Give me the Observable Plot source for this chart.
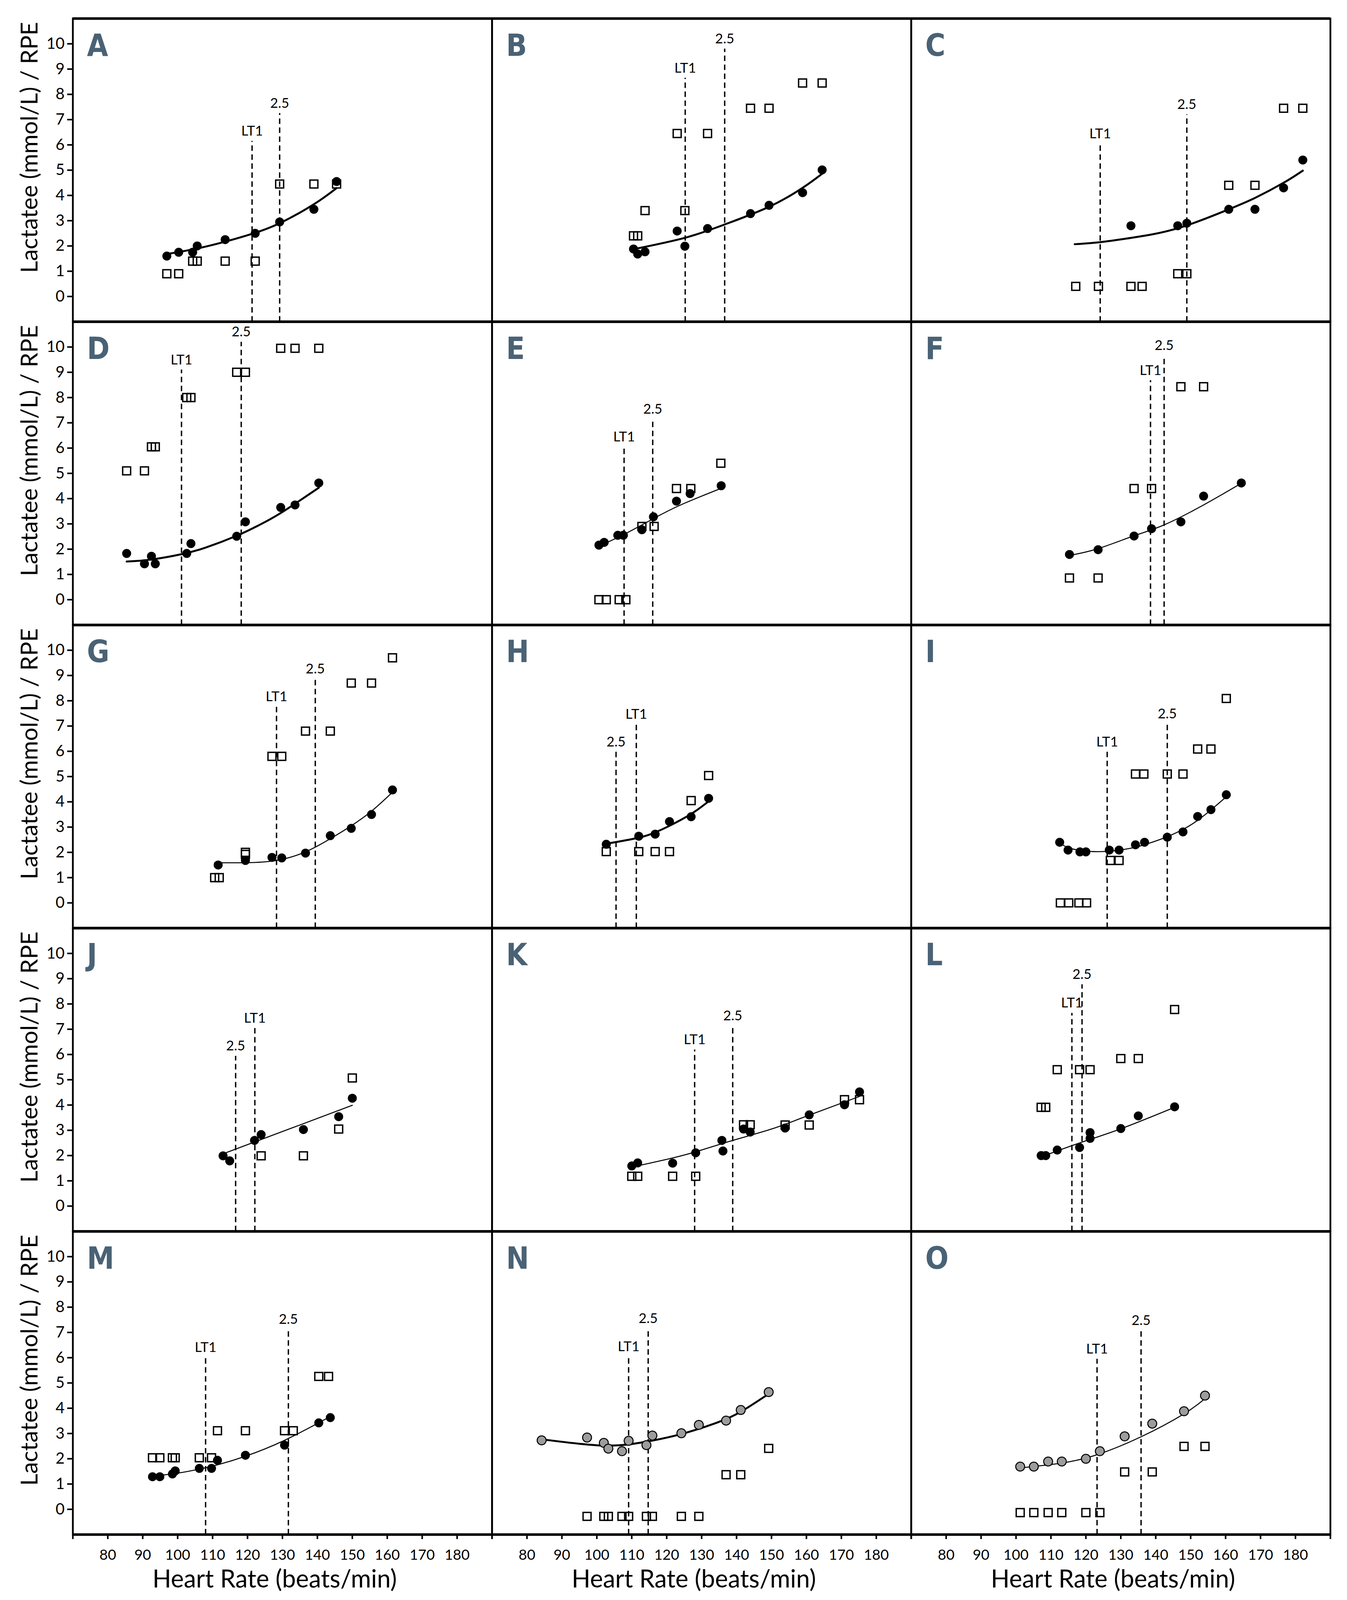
<!DOCTYPE html>
<html><head><meta charset="utf-8">
<script src="https://cdn.jsdelivr.net/npm/d3@7"></script>
<script src="https://cdn.jsdelivr.net/npm/@observablehq/plot@0.6"></script>
<style>html,body{margin:0;padding:0;background:#fff;overflow:hidden;} #chart svg{display:block;}</style>
</head><body><div id="chart"></div>
<script>
// ---------- DATA ----------
const panels = ["A","B","C","D","E","F","G","H","I","J","K","L","M","N","O"];
const xTicks = [70,80,90,100,110,120,130,140,150,160,170,180,190];
const yTicks = [0,1,2,3,4,5,6,7,8,9,10];
const yTitle = "Lactatee (mmol/L) / RPE";
const xTitle = "Heart Rate (beats/min)";

// [heart rate, lactate]
const lacA = [[96.9,1.6],[100.3,1.75],[104.3,1.75],[105.6,2.0],[113.6,2.25],[122.2,2.5],[129.2,2.95],[139.0,3.45],[145.5,4.55]];
const lacB = [[110.5,1.88],[111.7,1.68],[113.8,1.77],[123.0,2.59],[125.2,1.99],[131.7,2.69],[144.0,3.28],[149.3,3.61],[158.9,4.11],[164.5,5.01]];
const lacC = [[132.9,2.8],[146.3,2.8],[148.9,2.9],[160.9,3.45],[168.4,3.45],[176.6,4.3],[182.1,5.4]];
const lacD = [[85.4,1.83],[90.5,1.42],[92.5,1.72],[93.6,1.42],[102.6,1.83],[103.8,2.22],[116.9,2.51],[119.4,3.08],[129.5,3.65],[133.6,3.75],[140.4,4.62]];
const lacE = [[100.6,2.16],[102.1,2.27],[106.0,2.55],[107.6,2.55],[112.9,2.77],[116.2,3.28],[122.8,3.9],[126.7,4.2],[135.6,4.51]];
const lacF = [[115.3,1.79],[123.5,1.98],[133.8,2.52],[138.8,2.81],[147.2,3.08],[153.7,4.1],[164.5,4.62]];
const lacG = [[111.6,1.5],[119.4,1.68],[127.0,1.8],[129.8,1.78],[136.6,1.97],[143.7,2.66],[149.7,2.95],[155.5,3.5],[161.5,4.47]];
const lacH = [[102.7,2.32],[112.0,2.64],[116.7,2.72],[120.8,3.22],[127.0,3.41],[132.0,4.14]];
const lacI = [[112.5,2.4],[114.9,2.09],[118.3,2.02],[120.0,2.02],[126.7,2.09],[129.5,2.09],[134.2,2.3],[136.8,2.4],[143.3,2.6],[147.8,2.81],[152.0,3.42],[155.8,3.69],[160.2,4.28]];
const lacJ = [[113.0,1.99],[114.9,1.79],[122.0,2.6],[123.9,2.83],[136.0,3.03],[146.1,3.54],[150.0,4.27]];
const lacK = [[110.0,1.59],[111.7,1.71],[121.7,1.7],[128.3,2.11],[135.8,2.6],[136.1,2.18],[142.0,3.05],[143.9,2.93],[153.9,3.09],[160.8,3.61],[170.9,4.01],[175.2,4.52]];
const lacL = [[107.2,2.0],[108.5,2.0],[111.8,2.22],[118.2,2.32],[121.2,2.91],[121.2,2.68],[130.0,3.07],[135.0,3.57],[145.4,3.93]];
const lacM = [[92.8,1.29],[94.9,1.29],[98.5,1.4],[99.3,1.52],[106.2,1.62],[109.7,1.62],[111.4,1.94],[119.4,2.14],[130.6,2.54],[140.4,3.42],[143.7,3.63]];
const lacN = [[84.2,2.73],[97.2,2.84],[102.0,2.63],[103.3,2.4],[107.2,2.3],[109.1,2.71],[114.2,2.54],[115.9,2.92],[124.2,3.01],[129.2,3.34],[137.0,3.51],[141.2,3.93],[149.2,4.64]];
const lacO = [[101.2,1.69],[105.1,1.69],[109.2,1.89],[113.1,1.89],[120.0,2.0],[124.0,2.3],[131.1,2.89],[139.0,3.39],[148.1,3.88],[154.1,4.5]];

// [heart rate, RPE]
const rpeA = [[96.9,0.9],[100.3,0.9],[104.3,1.4],[105.6,1.4],[113.6,1.4],[122.2,1.4],[129.2,4.45],[139.0,4.45],[145.5,4.45]];
const rpeB = [[110.5,2.4],[111.7,2.4],[113.8,3.4],[123.0,6.45],[125.2,3.4],[131.7,6.45],[144.0,7.45],[149.3,7.45],[158.9,8.45],[164.5,8.45]];
const rpeC = [[117.1,0.4],[123.6,0.4],[132.9,0.4],[136.1,0.4],[146.3,0.9],[148.9,0.9],[160.9,4.4],[168.4,4.4],[176.6,7.45],[182.1,7.45]];
const rpeD = [[85.4,5.1],[90.5,5.1],[92.5,6.05],[93.6,6.05],[102.6,8.0],[103.8,8.0],[116.9,9.0],[119.4,9.0],[129.5,9.95],[133.6,9.95],[140.4,9.95]];
const rpeE = [[100.6,0],[102.7,0],[106.4,0],[108.3,0],[112.9,2.9],[116.4,2.9],[122.8,4.4],[126.9,4.4],[135.5,5.4]];
const rpeF = [[115.3,0.86],[123.5,0.86],[133.8,4.4],[138.8,4.4],[147.2,8.43],[153.7,8.43]];
const rpeG = [[110.6,1.0],[111.9,1.0],[119.4,1.92],[119.4,2.0],[127.0,5.8],[129.8,5.8],[136.6,6.8],[143.7,6.8],[149.7,8.7],[155.5,8.7],[161.5,9.7]];
const rpeH = [[102.7,2.03],[112.0,2.03],[116.7,2.03],[120.8,2.03],[127.0,4.05],[132.0,5.04]];
const rpeI = [[112.7,0],[115.1,0],[118.0,0],[120.2,0],[127.0,1.68],[129.5,1.68],[134.2,5.1],[136.6,5.1],[143.3,5.1],[147.8,5.1],[152.0,6.09],[155.8,6.09],[160.2,8.09]];
const rpeJ = [[123.9,1.99],[136.0,1.99],[146.1,3.05],[150.0,5.07]];
const rpeK = [[110.0,1.18],[111.7,1.18],[121.7,1.18],[128.3,1.18],[142.0,3.22],[143.9,3.22],[153.9,3.21],[160.8,3.21],[170.9,4.21],[175.2,4.21]];
const rpeL = [[107.2,3.91],[108.5,3.91],[111.8,5.4],[118.2,5.4],[121.2,5.4],[130.0,5.84],[135.0,5.84],[145.4,7.78]];
const rpeM = [[92.8,2.04],[94.9,2.04],[98.5,2.04],[99.3,2.04],[106.2,2.04],[109.7,2.04],[111.4,3.11],[119.4,3.11],[130.6,3.11],[133.1,3.11],[140.4,5.26],[143.2,5.26]];
const rpeN = [[97.2,-0.28],[102.0,-0.28],[103.3,-0.28],[107.2,-0.28],[109.1,-0.28],[114.2,-0.28],[115.9,-0.28],[124.2,-0.28],[129.2,-0.28],[137.0,1.37],[141.2,1.37],[149.2,2.41]];
const rpeO = [[101.2,-0.13],[105.1,-0.13],[109.2,-0.13],[113.1,-0.13],[120.0,-0.13],[124.0,-0.13],[131.1,1.48],[139.0,1.48],[148.1,2.49],[154.1,2.49]];

// lactate trend curves
const fitA = [[96.9,1.68],[105.6,1.9],[113.6,2.17],[121.3,2.48],[129.2,2.9],[139.0,3.65],[145.5,4.29]];
const fitB = [[110.5,1.87],[125.2,2.32],[136.6,2.85],[149.3,3.55],[158.9,4.3],[164.5,4.86]];
const fitC = [[116.8,2.07],[124.1,2.15],[132.9,2.32],[146.3,2.7],[160.9,3.45],[168.4,3.9],[176.6,4.5],[182.1,4.98]];
const fitD = [[85.4,1.51],[92.5,1.59],[101.1,1.8],[108,2.06],[116.9,2.53],[123,2.93],[129.5,3.43],[140.4,4.43]];
const fitE = [[100.6,2.12],[108,2.6],[116.1,3.2],[124,3.75],[135.6,4.41]];
const fitF = [[115.3,1.75],[123.5,2.02],[133.8,2.53],[142.4,2.96],[153.7,3.75],[164.5,4.61]];
const fitG = [[110.6,1.59],[119.4,1.59],[128.3,1.68],[136.6,2.02],[143.7,2.54],[149.7,3.05],[155.5,3.63],[161.5,4.38]];
const fitH = [[102.7,2.34],[112,2.58],[116.7,2.79],[120.8,3.05],[127,3.52],[132,4.02]];
const fitI = [[112.5,2.36],[115.3,2.17],[120,2.05],[126.1,2.04],[132.7,2.16],[137.4,2.33],[143.3,2.62],[148.5,2.96],[152,3.27],[155.8,3.68],[160.2,4.2]];
const fitJ = [[113,2.07],[131.9,3.05],[150,3.99]];
const fitK = [[110,1.54],[120,1.85],[128.3,2.15],[138.9,2.6],[150,3.05],[160.8,3.6],[175.2,4.34]];
const fitL = [[107.2,1.95],[118.2,2.5],[130,3.06],[145.4,3.91]];
const fitM = [[92.8,1.31],[100,1.43],[106.2,1.59],[111.4,1.76],[119.4,2.1],[130.6,2.73],[143.7,3.67]];
const fitN = [[84.2,2.77],[95.2,2.59],[103,2.52],[109.2,2.57],[115.5,2.71],[124.2,2.98],[134.2,3.42],[141.2,3.86],[149.2,4.57]];
const fitO = [[101.2,1.64],[113.1,1.83],[123.2,2.16],[135.8,2.87],[148.1,3.78],[154.1,4.38]];

// threshold heart rates (LT1 and 2.5 mmol/L) and the height where each dashed line stops
const lt1HR  = [121.3,125.3,124.1,101.1,107.8,138.5,128.3,111.3,126.1,122.1,128.0,116.0,108.0,109.1,123.2];
const lt1Top = [6.15,8.65,6.05,9.1,6.05,8.68,7.76,7.07,5.98,7.04,6.19,7.64,6.01,6.04,5.95];
const hr25   = [129.2,136.6,148.9,118.2,116.0,142.4,139.4,105.5,143.3,116.6,138.9,118.9,131.7,114.7,135.8];
const top25  = [7.25,9.8,7.2,10.2,7.15,9.66,8.87,5.98,7.09,5.94,7.13,8.77,7.13,7.15,7.08];

// ---------- styling choices ----------
const greyPanels = new Set(["N","O"]);
const thickFit = new Set(["A","B","C","D","H","N"]);
const letterColor = "#4a6275";
const sans = "Lato, 'Open Sans', sans-serif";
const narrow = "'Liberation Sans Narrow', 'DejaVu Sans Condensed', 'Noto Sans', sans-serif";

// ---------- tables ----------
const lacSets = [lacA,lacB,lacC,lacD,lacE,lacF,lacG,lacH,lacI,lacJ,lacK,lacL,lacM,lacN,lacO];
const rpeSets = [rpeA,rpeB,rpeC,rpeD,rpeE,rpeF,rpeG,rpeH,rpeI,rpeJ,rpeK,rpeL,rpeM,rpeN,rpeO];
const fitSets = [fitA,fitB,fitC,fitD,fitE,fitF,fitG,fitH,fitI,fitJ,fitK,fitL,fitM,fitN,fitO];
const cell = i => ({panel: panels[i], col: i % 3, row: Math.floor(i / 3)});
const toRows = sets => sets.flatMap((s, i) => s.map(([hr, v]) => ({...cell(i), hr, v})));
const lacRows = toRows(lacSets);
const rpeRows = toRows(rpeSets);
const fitRows = toRows(fitSets);
const thrRows = panels.flatMap((p, i) => [
  {...cell(i), hr: lt1HR[i], top: lt1Top[i], label: "LT1"},
  {...cell(i), hr: hr25[i], top: top25[i], label: "2.5"}
]);
const letterRows = panels.map((p, i) => cell(i));
const yTitleRows = [0,1,2,3,4].map(r => ({col: 0, row: r, label: yTitle}));
const xTitleRows = [0,1,2].map(c => ({col: c, row: 4, label: xTitle}));
const yMin = -1, yMax = 11;

// the photographed viewport may be shorter than 4240 px: lay the figure out to fit it
const H = Math.min(4240, window.innerHeight || 4240);
const k = H / 4240;

const chart = Plot.plot({
  width: 3448, height: H,
  marginTop: Math.round(49 * k), marginBottom: Math.round(174 * k), marginLeft: 186, marginRight: 43,
  style: {background: "white", color: "black", fontFamily: sans},
  x: {domain: [70, 190]},
  y: {domain: [yMin, yMax]},
  fx: {domain: [0,1,2], padding: 0, axis: null, round: false},
  fy: {domain: [0,1,2,3,4], padding: 0, axis: null, round: false},
  marks: [
    Plot.line(fitRows.filter(d => thickFit.has(d.panel)), {x: "hr", y: "v", z: "panel", fx: "col", fy: "row", curve: "natural", stroke: "black", strokeWidth: 5}),
    Plot.line(fitRows.filter(d => !thickFit.has(d.panel)), {x: "hr", y: "v", z: "panel", fx: "col", fy: "row", curve: "natural", stroke: "black", strokeWidth: 2.6}),
    Plot.ruleX(thrRows, {x: "hr", y1: yMin, y2: "top", fx: "col", fy: "row", stroke: "black", strokeWidth: 3.5, strokeDasharray: "14,9"}),
    Plot.text(thrRows, {x: "hr", y: "top", text: "label", fx: "col", fy: "row", dy: -14, lineAnchor: "bottom", fontSize: 35, fontFamily: sans, fill: "black"}),
    Plot.dot(rpeRows, {x: "hr", y: "v", fx: "col", fy: "row", symbol: "square", r: 11.5, fill: "none", stroke: "black", strokeWidth: 3.5}),
    Plot.dot(lacRows.filter(d => !greyPanels.has(d.panel)), {x: "hr", y: "v", fx: "col", fy: "row", r: 11.5, fill: "black"}),
    Plot.dot(lacRows.filter(d => greyPanels.has(d.panel)), {x: "hr", y: "v", fx: "col", fy: "row", r: 11.5, fill: "#9c9c9c", stroke: "black", strokeWidth: 2.5}),
    Plot.text(letterRows, {fx: "col", fy: "row", text: "panel", frameAnchor: "top-left", dx: 36, dy: Math.round(41 * k), lineAnchor: "top", textAnchor: "start", fontSize: 78, fontWeight: "bold", fontFamily: narrow, fill: letterColor}),
    Plot.text(yTitleRows, {fx: "col", fy: "row", y: 5.9, text: "label", frameAnchor: "left", dx: -110, rotate: -90, textAnchor: "middle", lineAnchor: "middle", fontSize: 60, fontFamily: sans, fill: "black"}),
    Plot.text(xTitleRows, {fx: "col", fy: "row", text: "label", frameAnchor: "bottom", dx: -20, dy: Math.round(140 * k), lineAnchor: "bottom", fontSize: 63, fontFamily: sans, fill: "black"}),
    Plot.frame({stroke: "black", strokeWidth: 4.5}),
    Plot.ruleY([yMin, yMax], {stroke: "black", strokeWidth: 6.5}),
    Plot.axisY({ticks: yTicks, tickSize: 14, tickPadding: 7, strokeWidth: 4, fontSize: 40, fontFamily: sans, label: null, facetAnchor: "left"}),
    Plot.axisX({ticks: xTicks, tickFormat: d => (d < 80 || d > 180) ? "" : d, tickSize: 12, tickPadding: Math.round(27 * k), strokeWidth: 4, fontSize: 37, fontFamily: sans, label: null, facetAnchor: "bottom"})
  ]
});
document.getElementById("chart").appendChild(chart);
</script>
</body></html>
